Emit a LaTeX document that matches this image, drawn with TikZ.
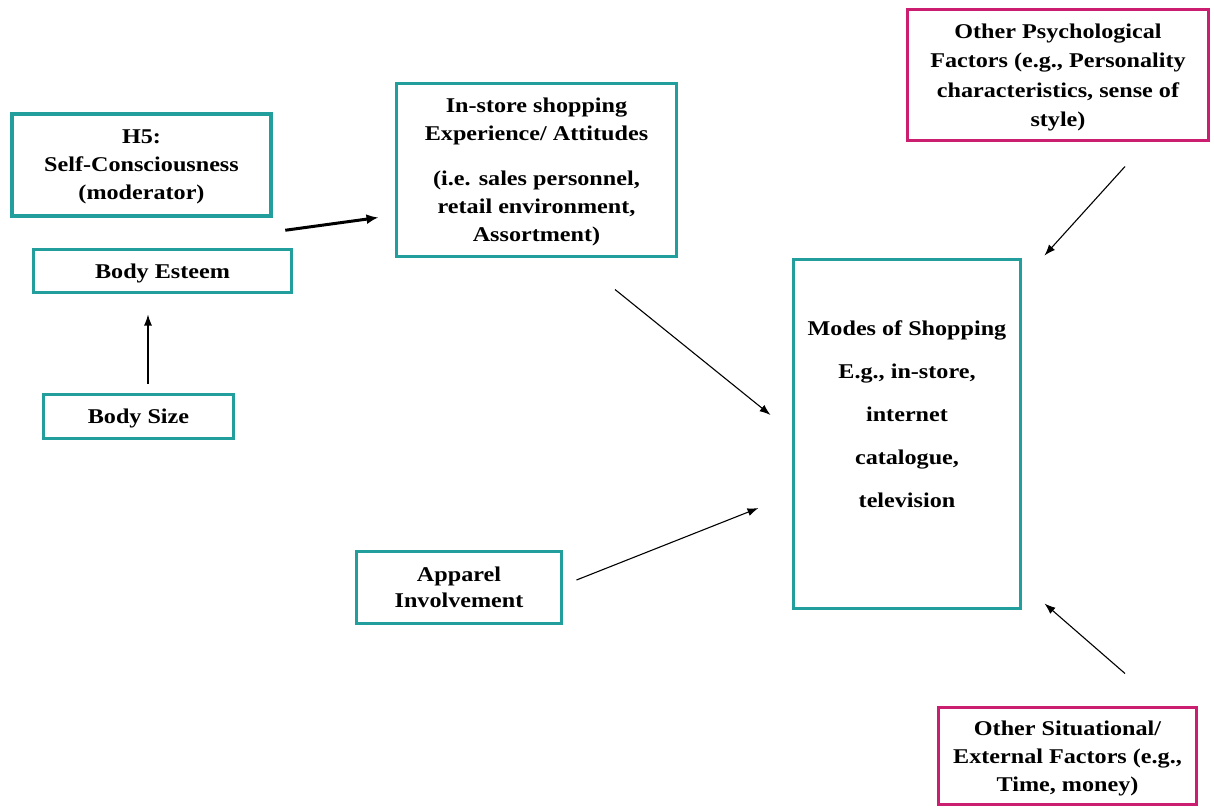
\documentclass[tikz,border=0pt]{standalone}
\usepackage{fontspec}
\setmainfont[FakeStretch=1.15]{Liberation Serif}
\usetikzlibrary{arrows.meta,calc}
\definecolor{tealc}{RGB}{34,158,156}
\definecolor{magc}{RGB}{204,30,112}
\tikzset{
  box/.style={draw=tealc, line width=3pt, inner sep=0pt, align=center, text depth=0pt,
    font=\fontsize{21}{28}\selectfont\bfseries},
  thickbox/.style={box, line width=4.5pt},
  magbox/.style={box, draw=magc},
  txt/.style={inner sep=0pt, align=center},
  arr/.style={line width=1.1pt, -{Latex[length=11pt,width=8pt]}},
  thickarr/.style={line width=3pt, -{Latex[length=12pt,width=10pt]}}
}
\begin{document}
\begin{tikzpicture}[x=1pt,y=-1pt]
\useasboundingbox (0,0) rectangle (1214,809);
\node[thickbox, minimum width=259pt, minimum height=102pt] (h5) at (141.5,165) {H5:\\Self-Consciousness\\(moderator)};
\node[box, minimum width=258pt, minimum height=43pt] (esteem) at (162.5,271) {Body Esteem};
\node[box, minimum width=190pt, minimum height=44pt] (size) at (138.5,416.5) {Body Size};
\node[box, minimum width=280pt, minimum height=173pt] (instore) at (536.5,170) {In-store shopping\\Experience/ Attitudes\\[17pt](i.e. sales personnel,\\retail environment,\\Assortment)};
\node[box, minimum width=227pt, minimum height=349pt] (modes) at (907,434) {};
\node[txt, font=\fontsize{21}{43}\selectfont\bfseries] (modestxt) at ($(modes)+(0,-20)$) {Modes of Shopping\\E.g., in-store,\\internet\\catalogue,\\television};
\node[magbox, minimum width=301pt, minimum height=131pt, font=\fontsize{21}{29.5}\selectfont\bfseries] (psych) at (1058,75) {Other Psychological\\Factors (e.g., Personality\\characteristics, sense of\\style)};
\node[box, minimum width=205pt, minimum height=72pt, font=\fontsize{21}{26}\selectfont\bfseries] (apparel) at (459,587.5) {Apparel\\Involvement};
\node[magbox, minimum width=258pt, minimum height=97pt] (situ) at (1067.5,756) {Other Situational/\\External Factors (e.g.,\\Time, money)};

\draw[arr] ($(size.north)+(9.5,-9.5)$) -- ($(esteem.south)+(-14.5,20.5)$);
\draw[thickarr] ($(h5.south east)+(12,12)$) -- ($(instore.south west)+(-16.5,-40.5)$);
\draw[arr] ($(instore.south)+(78.5,31.5)$) -- ($(modes.west)+(-21.5,-19)$);
\draw[arr] ($(apparel.east)+(13.5,-7.5)$) -- ($(modes.west)+(-33.5,74)$);
\draw[arr] ($(psych.south)+(67,24.5)$) -- ($(modes.north east)+(22.5,-2.5)$);
\draw[arr] ($(situ.north)+(57.5,-32.5)$) -- ($(modes.south east)+(22.5,-6.5)$);
\end{tikzpicture}
\end{document}
